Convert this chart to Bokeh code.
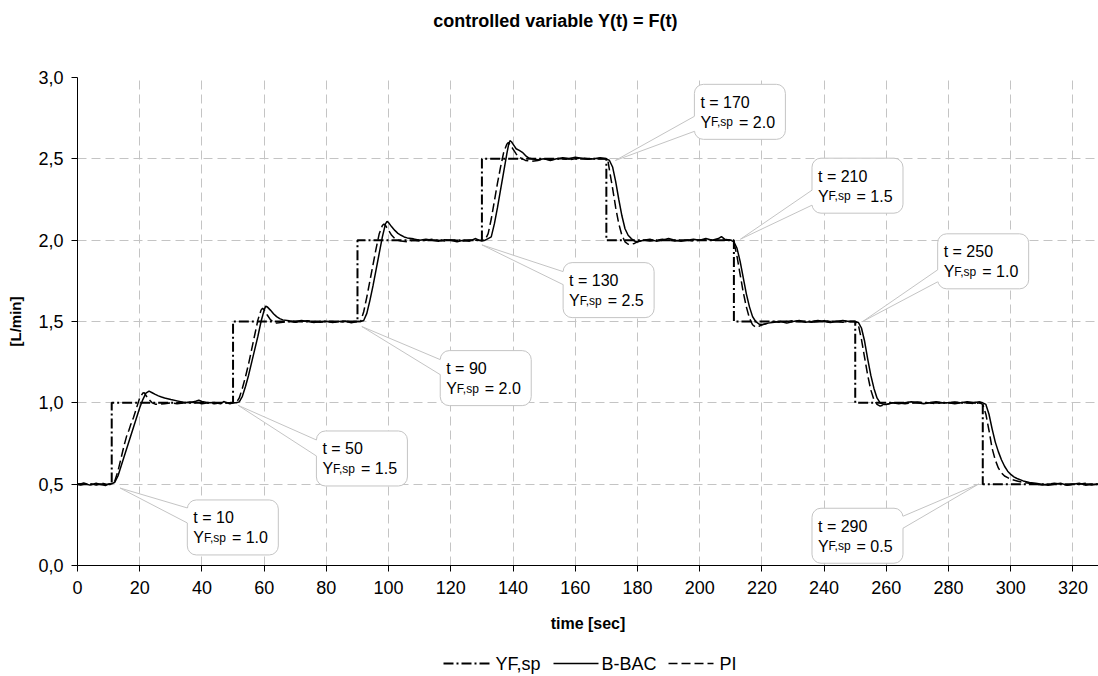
import math
from bokeh.plotting import figure
from bokeh.layouts import column
from bokeh.models import Range1d, FixedTicker, CustomJSTickFormatter
from bokeh.core.properties import value
from bokeh.embed import file_html
from bokeh.resources import INLINE

FONT = "Liberation Sans"

# ---------------- texts / ticks ----------------
title_text = "controlled variable Y(t) = F(t)"
x_label = "time [sec]"
y_label = "[L/min]"
x_ticks = [0, 20, 40, 60, 80, 100, 120, 140, 160, 180, 200, 220, 240, 260, 280, 300, 320]
y_ticks = [0.0, 0.5, 1.0, 1.5, 2.0, 2.5, 3.0]
y_tick_labels = ["0,0", "0,5", "1,0", "1,5", "2,0", "2,5", "3,0"]
legend_labels = ["YF,sp", "B-BAC", "PI"]

# ---------------- data ----------------
sp_t = [0, 11, 50, 90, 130, 170, 211, 250, 291, 330]
sp_y = [0.5, 1.0, 1.5, 2.0, 2.5, 2.0, 1.5, 1.0, 0.5, 0.5]

bbac = [
    (0, .500), (1, .502), (2, .508), (3, .500), (4, .494), (5, .500), (6, .506), (7, .500), (8, .497),
    (9, .492), (10, .500), (11, .502), (12, .512),
    (13, .55), (14, .61), (15, .67), (16, .73), (17, .79), (18, .85), (19, .91), (20, .97), (21, 1.02),
    (22, 1.06), (23, 1.072), (24, 1.062), (25, 1.052), (26, 1.043), (27, 1.036), (28, 1.030), (30, 1.020),
    (32, 1.012), (34, 1.004), (36, 1.000), (38, 1.010), (39, 1.016), (40, 1.008), (42, 1.000), (44, 1.002),
    (46, 0.994), (47, 1.008), (48, 1.000), (49, 0.994), (50, 1.000), (51, 1.000), (52, 1.006),
    (53, 1.04), (54, 1.10), (55, 1.17), (56, 1.25), (57, 1.33), (58, 1.41), (59, 1.50), (60, 1.57),
    (60.5, 1.595), (61, 1.590), (62, 1.570), (63, 1.548), (64, 1.530), (65, 1.518), (66, 1.510), (68, 1.504),
    (70, 1.500), (72, 1.506), (74, 1.500), (76, 1.494), (78, 1.500), (80, 1.502), (82, 1.494), (84, 1.500),
    (86, 1.503), (88, 1.492), (90, 1.500), (91, 1.500), (92, 1.506),
    (93, 1.55), (94, 1.63), (95, 1.72), (96, 1.82), (97, 1.92), (98, 2.02), (99, 2.10), (99.5, 2.115),
    (100, 2.108), (101, 2.082), (102, 2.060), (103, 2.042), (104, 2.030), (105, 2.020), (106, 2.014),
    (108, 2.008), (110, 2.000), (112, 2.006), (114, 2.000), (116, 1.994), (118, 2.002), (120, 2.000),
    (122, 1.990), (124, 2.000), (126, 1.994), (128, 2.010), (129, 2.000), (130, 1.994), (131, 2.000), (132, 2.010),
    (133, 2.02), (134, 2.10), (135, 2.20), (136, 2.31), (137, 2.42), (138, 2.53), (138.5, 2.58), (139, 2.612),
    (139.5, 2.605), (140, 2.590), (141, 2.562), (142, 2.552), (143, 2.540), (144, 2.520), (145, 2.506),
    (146, 2.500), (148, 2.494), (150, 2.500), (152, 2.490), (154, 2.500), (156, 2.506), (158, 2.500),
    (160, 2.510), (162, 2.504), (164, 2.498), (166, 2.500), (168, 2.506), (170, 2.500), (171, 2.490),
    (172, 2.45), (173, 2.36), (174, 2.25), (175, 2.15), (176, 2.07), (177, 2.03), (178, 2.010), (179, 1.995),
    (180, 1.990), (182, 2.000), (184, 2.006), (186, 1.994), (188, 2.000), (190, 2.010), (192, 2.000),
    (194, 1.994), (196, 2.000), (198, 2.006), (200, 2.000), (202, 2.010), (204, 2.000), (206, 2.010),
    (207, 2.022), (208, 2.006), (210, 2.000), (211, 1.990),
    (212, 1.95), (213, 1.87), (214, 1.77), (215, 1.67), (216, 1.59), (217, 1.53), (218, 1.500), (219, 1.485),
    (220, 1.480), (221, 1.484), (222, 1.490), (224, 1.495), (226, 1.500), (228, 1.490), (230, 1.500),
    (232, 1.506), (234, 1.495), (236, 1.500), (238, 1.506), (240, 1.500), (242, 1.494), (244, 1.500),
    (246, 1.506), (248, 1.500), (250, 1.500), (251, 1.494),
    (252, 1.46), (253, 1.38), (254, 1.27), (255, 1.17), (256, 1.09), (257, 1.03), (258, 1.000), (259, 0.990),
    (260, 0.990), (262, 1.000), (264, 0.994), (266, 1.000), (268, 1.006), (270, 1.000), (272, 0.994),
    (274, 1.000), (276, 1.006), (278, 1.000), (280, 1.000), (282, 0.994), (284, 1.000), (286, 1.006),
    (288, 1.000), (290, 1.006), (291, 1.000), (292, 0.990),
    (293, 0.93), (294, 0.84), (295, 0.76), (296, 0.70), (297, 0.65), (298, 0.61), (299, 0.58), (300, 0.56),
    (301, 0.545), (302, 0.535), (304, 0.520), (306, 0.510), (308, 0.505), (310, 0.500), (312, 0.494),
    (314, 0.500), (316, 0.506), (318, 0.494), (320, 0.500), (322, 0.506), (324, 0.494), (326, 0.500),
    (328, 0.500), (330, 0.495),
]

pi = [
    (0, .500), (1, .494), (2, .500), (3, .506), (4, .500), (5, .500), (6, .494), (7, .500), (8, .506),
    (9, .500), (10, .500), (11, .500),
    (12, .52), (13, .58), (14, .66), (15, .74), (16, .81), (16.5, .83), (17, .86), (18, .91), (19, .97),
    (20, 1.03), (21, 1.06), (21.5, 1.062), (22, 1.045), (23, 1.020), (24, 1.000), (25, 0.992), (26, 0.990),
    (28, 0.995), (30, 1.000), (32, 0.995), (34, 1.000), (36, 1.005), (38, 1.000), (40, 0.995), (42, 1.000),
    (44, 0.995), (46, 1.000), (48, 1.000), (50, 1.000), (51, 1.000),
    (52, 1.03), (53, 1.09), (54, 1.16), (55, 1.24), (56, 1.33), (57, 1.42), (58, 1.51), (59, 1.57),
    (59.5, 1.582), (60, 1.572), (61, 1.540), (62, 1.512), (63, 1.494), (64, 1.490), (66, 1.495), (68, 1.500),
    (70, 1.495), (72, 1.500), (74, 1.505), (76, 1.500), (78, 1.495), (80, 1.500), (82, 1.500), (84, 1.495),
    (86, 1.500), (88, 1.500), (90, 1.500), (91, 1.500),
    (92, 1.56), (93, 1.65), (94, 1.75), (95, 1.85), (96, 1.95), (97, 2.04), (98, 2.09), (98.5, 2.100),
    (99, 2.090), (100, 2.060), (101, 2.030), (102, 2.010), (103, 2.000), (104, 1.995), (106, 1.990),
    (108, 2.000), (110, 1.995), (112, 2.000), (114, 2.005), (116, 2.000), (118, 1.995), (120, 2.000),
    (122, 2.000), (124, 1.995), (126, 2.000), (128, 2.000), (130, 2.000), (131, 2.000),
    (132, 2.04), (133, 2.13), (134, 2.24), (135, 2.35), (136, 2.45), (137, 2.54), (138, 2.59), (138.5, 2.600),
    (139, 2.590), (140, 2.560), (141, 2.530), (142, 2.510), (143, 2.500), (144, 2.490), (146, 2.485),
    (148, 2.490), (150, 2.500), (152, 2.495), (154, 2.500), (156, 2.500), (158, 2.495), (160, 2.500),
    (162, 2.505), (164, 2.500), (166, 2.500), (168, 2.500), (170, 2.500), (170.5, 2.490),
    (171, 2.43), (172, 2.32), (173, 2.20), (174, 2.10), (175, 2.03), (176, 1.990), (177, 1.975), (178, 1.975),
    (179, 1.980), (180, 1.990), (182, 2.000), (184, 1.995), (186, 2.000), (188, 2.005), (190, 2.000),
    (192, 1.995), (194, 2.000), (196, 2.000), (198, 1.995), (200, 2.000), (202, 2.005), (204, 2.000),
    (206, 2.000), (208, 2.000), (210, 2.000), (211, 1.990),
    (212, 1.90), (213, 1.79), (214, 1.68), (215, 1.59), (216, 1.52), (217, 1.480), (218, 1.465), (219, 1.470),
    (220, 1.480), (222, 1.490), (224, 1.500), (226, 1.495), (228, 1.500), (230, 1.505), (232, 1.500),
    (234, 1.500), (236, 1.495), (238, 1.500), (240, 1.505), (242, 1.500), (244, 1.500), (246, 1.495),
    (248, 1.500), (250, 1.500), (251, 1.480),
    (252, 1.39), (253, 1.28), (254, 1.17), (255, 1.08), (256, 1.02), (257, 0.990), (258, 0.980), (259, 0.985),
    (260, 0.990), (262, 1.000), (264, 1.000), (266, 0.995), (268, 1.000), (270, 1.005), (272, 1.000),
    (274, 1.000), (276, 0.995), (278, 1.000), (280, 1.000), (282, 1.005), (284, 1.000), (286, 1.000),
    (288, 0.995), (290, 1.000), (291, 0.990),
    (292, 0.93), (293, 0.83), (294, 0.72), (295, 0.65), (296, 0.60), (297, 0.57), (298, 0.55), (299, 0.54),
    (300, 0.53), (302, 0.52), (304, 0.51), (306, 0.505), (308, 0.500), (310, 0.495), (312, 0.500),
    (314, 0.505), (316, 0.500), (318, 0.495), (320, 0.500), (322, 0.500), (324, 0.505), (326, 0.495),
    (328, 0.500), (330, 0.500),
]
bbac_t = [a for a, b in bbac]
bbac_y = [b for a, b in bbac]
pi_t = [a for a, b in pi]
pi_y = [b for a, b in pi]

# callouts: switching time, new set point
callout_t = ["10", "50", "90", "130", "170", "210", "250", "290"]
callout_sp = ["1.0", "1.5", "2.0", "2.5", "2.0", "1.5", "1.0", "0.5"]
# box top-left corner (data), pointer tip (data), pointer base offsets from box top (px) and edge
callout_left = [35.3, 76.8, 116.6, 156.1, 198.3, 236.1, 276.5, 236.1]
callout_top = [0.403, 0.827, 1.321, 1.862, 2.958, 2.504, 2.039, 0.352]
tip_x = [13.7, 51.6, 91.4, 130.0, 172.9, 213.1, 252.4, 289.7]
tip_y = [0.476, 0.985, 1.469, 1.971, 2.49, 2.006, 1.50, 0.501]
base_a = [8, 9, 9, 9, 32, 32, 36, 8]
base_b = [23, 25, 24, 22, 47, 47, 48, 20]
base_edge = ["left", "left", "left", "left", "left", "left", "left", "right"]

# ---------------- layout geometry (px) ----------------
W = 1098
H_HEAD, H_MAIN, H_LEG = 40, 600, 36
BL, BR, BT, BB = 77, 0, 37, 75
X0, X1 = 0, 328.2
Y0, Y1 = 0, 3.0
PXX = (W - BL - BR) / (X1 - X0)        # px per x-unit
PXY = (H_MAIN - BT - BB) / (Y1 - Y0)   # px per y-unit


def strip(height):
    # frame aligned with the main plot's frame (column aligns frames): x units = page pixels
    f = figure(width=W, height=height, x_range=Range1d(BL, W), y_range=Range1d(0, height),
               x_axis_location=None, y_axis_location=None,
               output_backend="svg", toolbar_location=None, title=None,
               min_border_left=BL, min_border_right=BR, min_border_top=0, min_border_bottom=0)
    f.grid.visible = False
    f.outline_line_color = None
    f.background_fill_color = "white"
    f.border_fill_color = "white"
    return f


# ---------------- header (title) ----------------
head = strip(H_HEAD)
head.text([555], [H_HEAD - 20.5], text=[title_text], text_font=value(FONT), text_font_size="18px",
          text_font_style="bold", text_color="black", text_align="center", text_baseline="middle")

# ---------------- main plot ----------------
p = figure(width=W, height=H_MAIN, x_range=Range1d(X0, X1), y_range=Range1d(Y0, Y1),
           output_backend="svg", toolbar_location=None, title=None,
           min_border_left=BL, min_border_right=BR, min_border_top=BT, min_border_bottom=BB)
p.outline_line_color = None
p.background_fill_color = "white"
p.border_fill_color = "white"

for ax in (p.xaxis[0], p.yaxis[0]):
    ax.axis_line_color = "black"
    ax.axis_line_width = 1
    ax.major_tick_line_color = "black"
    ax.major_tick_in = 0
    ax.major_tick_out = 6
    ax.minor_tick_line_color = None
    ax.major_label_text_font = FONT
    ax.major_label_text_font_size = "18px"
    ax.major_label_text_color = "black"
    ax.axis_label_text_font = FONT
    ax.axis_label_text_font_style = "bold"
    ax.axis_label_text_color = "black"
p.xaxis.ticker = FixedTicker(ticks=x_ticks)
p.yaxis.ticker = FixedTicker(ticks=y_ticks)
p.yaxis.formatter = CustomJSTickFormatter(
    args=dict(yt=y_ticks, yl=y_tick_labels),
    code="const i = yt.findIndex(v => Math.abs(v - tick) < 1e-9); return i >= 0 ? yl[i] : '';")
p.xaxis.major_label_standoff = 9
p.yaxis.major_label_standoff = 8
p.xaxis.axis_label = x_label
p.xaxis.axis_label_text_font_size = "16px"
p.xaxis.axis_label_standoff = 18
p.yaxis.axis_label = y_label
p.yaxis.axis_label_text_font_size = "15px"
p.yaxis.axis_label_standoff = 11

for g in (p.xgrid[0], p.ygrid[0]):
    g.grid_line_color = "#c4c4c4"
    g.grid_line_dash = "9 5"
    g.grid_line_width = 1

SP_STYLE = dict(line_color="black", line_width=2, line_dash="10 3 2 3")
BB_STYLE = dict(line_color="black", line_width=1.5)
PI_STYLE = dict(line_color="black", line_width=1.5, line_dash="9 4")
p.step(sp_t, sp_y, mode="after", **SP_STYLE)
p.line(pi_t, pi_y, **PI_STYLE)
p.line(bbac_t, bbac_y, **BB_STYLE)

# ---------------- callouts ----------------
bw = 91 / PXX
bh = 55 / PXY
lefts = callout_left
tops = callout_top
rights = [l + bw for l in lefts]
bottoms = [t - bh for t in tops]
p.quad(left=lefts, right=rights, top=tops, bottom=bottoms, fill_color="white",
       line_color="#c4c4c4", line_width=1, border_radius=9)

wx, wy, s_x0, s_y0, s_x1, s_y1 = [], [], [], [], [], []
for i in range(len(lefts)):
    if base_edge[i] == "left":
        ex, inner = lefts[i], lefts[i] + 2 / PXX
    else:
        ex, inner = rights[i], rights[i] - 2 / PXX
    ya = tops[i] - base_a[i] / PXY
    yb = tops[i] - base_b[i] / PXY
    wx.append([tip_x[i], ex, inner, inner, ex])
    wy.append([tip_y[i], ya, ya, yb, yb])
    s_x0 += [tip_x[i], tip_x[i]]
    s_y0 += [tip_y[i], tip_y[i]]
    s_x1 += [ex, ex]
    s_y1 += [ya, yb]
p.patches(wx, wy, fill_color="white", line_color=None)
p.segment(s_x0, s_y0, s_x1, s_y1, line_color="#c4c4c4", line_width=1)

tx = lefts
ty1 = [t - 18 / PXY for t in tops]
ty2 = [t - 38 / PXY for t in tops]
common = dict(text_font=value(FONT), text_color="black", text_baseline="alphabetic", text_align="left")
p.text(tx, ty1, text=["t = " + s for s in callout_t], x_offset=6, text_font_size="16px", **common)
p.text(tx, ty2, text=["Y"] * len(tx), x_offset=6, text_font_size="16px", **common)
p.text(tx, ty2, text=["F,sp"] * len(tx), x_offset=16.6, text_font_size="12px", **common)
p.text(tx, ty2, text=["= " + s for s in callout_sp], x_offset=44.6, text_font_size="16px", **common)

# ---------------- legend strip ----------------
leg = strip(H_LEG)
LEG_Y = H_LEG - 23
leg_x0 = [443, 553, 668]
leg_x1 = [490, 598, 713]
leg_tx = [495, 601, 719]
for x0, x1, st in zip(leg_x0, leg_x1, [SP_STYLE, BB_STYLE, PI_STYLE]):
    leg.line([x0, x1], [LEG_Y, LEG_Y], **st)
leg.text(leg_tx, [LEG_Y] * 3, text=legend_labels, text_font=value(FONT), text_font_size="18px",
         text_color="black", text_align="left", text_baseline="middle")

layout = column(head, p, leg, spacing=0)
open("out.html", "w").write(file_html(layout, INLINE))
